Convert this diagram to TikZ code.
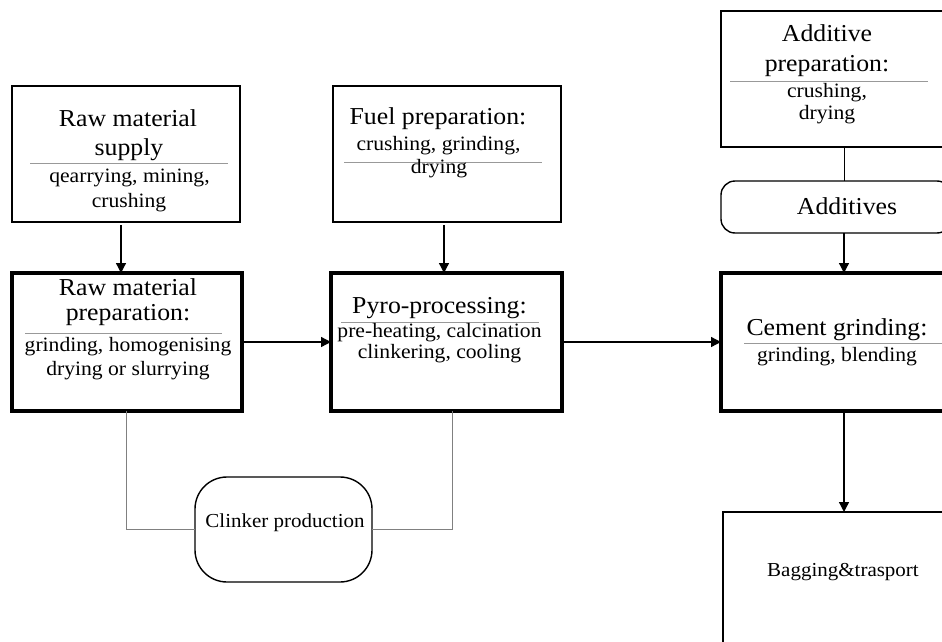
\documentclass[tikz,border=0pt]{standalone}
\usepackage{fontspec}
\setmainfont[FakeStretch=1.06]{Liberation Serif}
\usetikzlibrary{arrows.meta}
\begin{document}
\begin{tikzpicture}[x=1pt,y=-1pt,
  box/.style={draw, line width=1.4pt, inner sep=0pt, outer sep=0pt},
  thickbox/.style={draw, line width=3.4pt, inner sep=0pt, outer sep=0pt},
  ttl/.style={font=\fontsize{24.3}{28}\selectfont, anchor=base, inner sep=0pt},
  sub/.style={font=\fontsize{20.4}{24}\selectfont, anchor=base, inner sep=0pt},
  small/.style={font=\fontsize{19.8}{24}\selectfont, anchor=base, inner sep=0pt},
  sep/.style={draw=gray!80, line width=0.8pt},
  arr/.style={line width=1.3pt, -{Triangle[length=10pt,width=10pt]}},
  link/.style={draw=gray, line width=0.9pt}]
\useasboundingbox (0,0) rectangle (942,642);
\clip (0,0) rectangle (942,642);
% boxes
\node[box, minimum width=228pt, minimum height=136pt] (rms) at (126,154) {};
\node[thickbox, minimum width=230pt, minimum height=138pt] (rmp) at (127,342) {};
\node[box, minimum width=228pt, minimum height=136pt] (fuel) at (447,154) {};
\node[thickbox, minimum width=231pt, minimum height=138pt] (pyro) at (446.5,342) {};
\node[box, minimum width=230pt, minimum height=136pt] (add) at (836,79) {};
\node[box, rounded corners=14pt, minimum width=230pt, minimum height=52pt] (adds) at (836,207) {};
\node[thickbox, minimum width=232pt, minimum height=138pt] (cem) at (837,342) {};
\node[box, minimum width=230pt, minimum height=138pt] (bag) at (838,581) {};
\node[box, rounded corners=32pt, minimum width=177pt, minimum height=105pt] (clk) at (283.5,529.5) {};
% separators
\draw[sep] (30,163) -- (228,163);
\draw[sep] (25,333) -- (222,333);
\draw[sep] (344,162) -- (542,162);
\draw[sep] (341,322) -- (539,322);
\draw[sep] (730,81) -- (928,81);
\draw[sep] (744,343) -- (950,343);
% texts
\node[ttl] (t1a) at (128,126) {Raw material};
\node[ttl] (t1b) at (129,155) {supply};
\node[sub] (s1a) at (129.5,182) {qearrying, mining,};
\node[sub] (s1b) at (129,207) {crushing};
\node[ttl] (t2a) at (128,295) {Raw material};
\node[ttl] (t2b) at (128,320) {preparation:};
\node[sub] (s2a) at (128,351) {grinding, homogenising};
\node[sub] (s2b) at (128,375) {drying or slurrying};
\node[ttl] (t3a) at (438,124) {Fuel preparation:};
\node[sub] (s3a) at (438.5,150) {crushing, grinding,};
\node[sub] (s3b) at (439,173) {drying};
\node[ttl] (t4a) at (439.5,313) {Pyro-processing:};
\node[sub] (s4a) at (439.5,337) {pre-heating, calcination};
\node[sub] (s4b) at (439.5,358) {clinkering, cooling};
\node[ttl] (t5a) at (827,42) {Additive};
\node[ttl] (t5b) at (827,71) {preparation:};
\node[sub] (s5a) at (827,97) {crushing,};
\node[sub] (s5b) at (827,119) {drying};
\node[ttl] (t6a) at (847,214) {Additives};
\node[ttl] (t7a) at (837,335) {Cement grinding:};
\node[sub] (s7a) at (837,361) {grinding, blending};
\node[small] (t8a) at (285,527) {Clinker production};
\node[small] (t9a) at (843,576) {Bagging\&trasport};
% connectors
\draw[arr, shorten <=3pt] ([xshift=-5pt]rms.south) -- ([xshift=-5pt]rms.south |- rmp.north);
\draw[arr, shorten <=3pt] ([xshift=-3pt]fuel.south) -- ([xshift=-3pt]fuel.south |- pyro.north);
\draw[arr, shorten <=2pt] (rmp.east) -- (pyro.west);
\draw[arr, shorten <=2pt] (pyro.east) -- (cem.west);
\draw[line width=0.9pt] ([xshift=8pt]add.south) -- ([xshift=8pt]add.south |- adds.north);
\draw[arr] ([xshift=8pt]adds.south) -- ([xshift=8pt]adds.south |- cem.north);
\draw[arr, shorten <=2pt] ([xshift=7pt]cem.south) -- ([xshift=7pt]cem.south |- bag.north);
\draw[link] ([xshift=-1pt]rmp.south) |- (clk.west);
\draw[link] ([xshift=5.5pt]pyro.south) |- (clk.east);
\end{tikzpicture}
\end{document}
